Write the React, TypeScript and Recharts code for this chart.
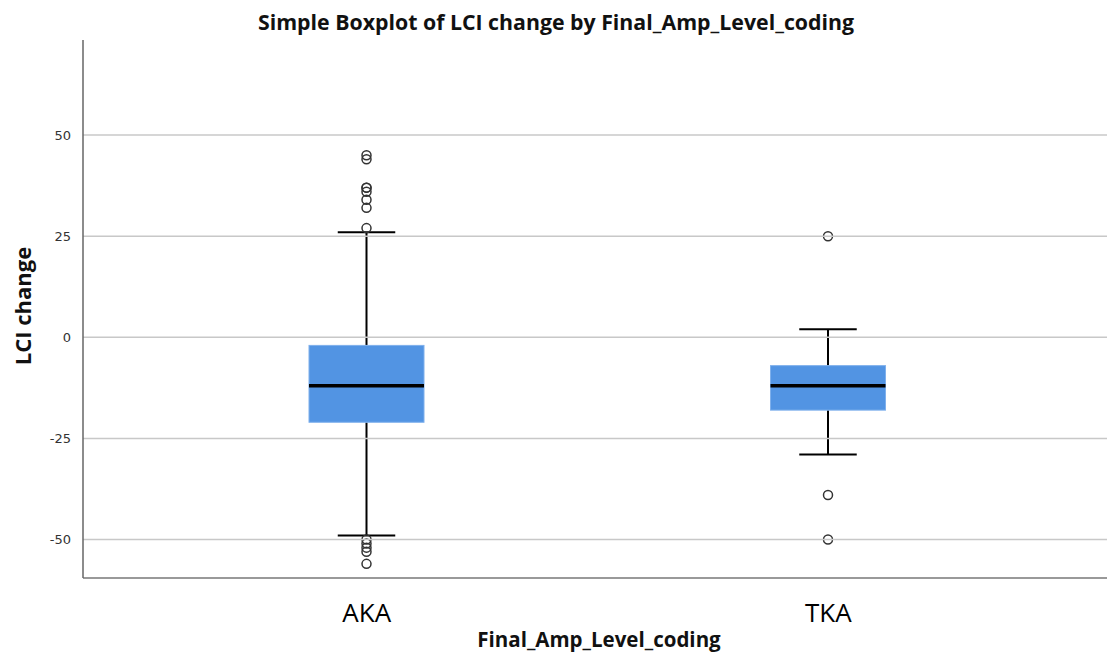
import React from 'react';
import { ComposedChart, Bar, XAxis, YAxis, ReferenceLine, Label } from 'recharts';

const categories = ['AKA', 'TKA'];
const q1Values = [-21, -18];
const medianValues = [-12, -12];
const q3Values = [-2, -7];
const whiskerLowValues = [-49, -29];
const whiskerHighValues = [26, 2];
const akaOutliers = [45, 44, 37, 37, 36, 34, 32, 27, -50, -51, -52, -53, -56];
const tkaOutliers = [25, -39, -50];
const outlierLists = [akaOutliers, tkaOutliers];
const yTicks = [-50, -25, 0, 25, 50];

const data = categories.map((cat, i) => ({
  cat,
  q1: q1Values[i],
  median: medianValues[i],
  q3: q3Values[i],
  whiskerLow: whiskerLowValues[i],
  whiskerHigh: whiskerHighValues[i],
  range: [whiskerLowValues[i], whiskerHighValues[i]],
  outliers: outlierLists[i],
}));

const BoxShape = (props: any) => {
  const { x, y, width, height, payload } = props;
  const hi = payload.whiskerHigh;
  const lo = payload.whiskerLow;
  const top = Math.min(y, y + height);
  const bottom = Math.max(y, y + height);
  const py = (v: number) => top + ((hi - v) / (hi - lo)) * (bottom - top);
  const cx = x + width / 2;
  const capHalf = width / 4;
  const yq3 = py(payload.q3);
  const yq1 = py(payload.q1);
  const ymed = py(payload.median);
  return (
    <g>
      <line x1={cx} x2={cx} y1={py(hi)} y2={yq3} stroke="#000" strokeWidth={2} />
      <line x1={cx} x2={cx} y1={yq1} y2={py(lo)} stroke="#000" strokeWidth={2} />
      <line x1={cx - capHalf} x2={cx + capHalf} y1={py(hi)} y2={py(hi)} stroke="#000" strokeWidth={2} />
      <line x1={cx - capHalf} x2={cx + capHalf} y1={py(lo)} y2={py(lo)} stroke="#000" strokeWidth={2} />
      <rect x={x} y={yq3} width={width} height={yq1 - yq3} fill="#5294e3" stroke="#7fb0ec" strokeWidth={1} />
      <line x1={x} x2={x + width} y1={ymed} y2={ymed} stroke="#000" strokeWidth={3.5} />
      {payload.outliers.map((v: number, k: number) => (
        <circle key={k} cx={cx} cy={py(v)} r={4.5} fill="none" stroke="#333" strokeWidth={1.5} />
      ))}
    </g>
  );
};

const XTick = (props: any) => {
  const { x, y, payload } = props;
  return (
    <text x={x} y={y + 36} textAnchor="middle" fontFamily="'Open Sans', sans-serif" fontSize={26} fill="#000">
      {payload.value}
    </text>
  );
};

const XTitle = (props: any) => {
  const vb = props.viewBox;
  return (
    <text
      x={vb.x + vb.width / 2 + 4}
      y={vb.y + 69}
      textAnchor="middle"
      fontFamily="'Open Sans', sans-serif"
      fontWeight="bold"
      fontSize={20.5}
      fill="#111"
    >
      Final_Amp_Level_coding
    </text>
  );
};

const YTitle = (props: any) => {
  const vb = props.viewBox;
  const cy = vb.y + vb.height / 2 - 3;
  const bx = 31;
  return (
    <text
      x={bx}
      y={cy}
      transform={`rotate(-90, ${bx}, ${cy})`}
      textAnchor="middle"
      fontFamily="'Open Sans', sans-serif"
      fontWeight="bold"
      fontSize={22}
      fill="#111"
    >
      LCI change
    </text>
  );
};

export default function App() {
  return (
    <div style={{ position: 'absolute', left: 0, top: 0, width: 1107, height: 655, background: '#fff' }}>
      <div
        style={{
          position: 'absolute',
          left: 0,
          top: 11,
          width: 1112,
          textAlign: 'center',
          fontFamily: "'Open Sans', sans-serif",
          fontWeight: 'bold',
          fontSize: 21.3,
          lineHeight: '21px',
          color: '#111',
          whiteSpace: 'nowrap',
        }}
      >
        Simple Boxplot of LCI change by Final_Amp_Level_coding
      </div>
      <ComposedChart width={1107} height={655} data={data} margin={{ top: 40, right: 0, bottom: 47, left: 0 }}>
        {yTicks.map((t) => (
          <ReferenceLine key={t} y={t} stroke="#c8c8c8" strokeWidth={1.5} />
        ))}
        <XAxis
          dataKey="cat"
          height={30}
          padding={{ left: 53, right: 48 }}
          axisLine={{ stroke: '#777', strokeWidth: 1.5 }}
          tickLine={false}
          tick={<XTick />}
          interval={0}
        >
          <Label content={<XTitle />} />
        </XAxis>
        <YAxis
          width={83}
          domain={[-59.5, 73.5]}
          ticks={yTicks}
          allowDataOverflow
          axisLine={{ stroke: '#666', strokeWidth: 1.5 }}
          tickLine={false}
          tick={{ fill: '#333', fontSize: 13, fontFamily: "'DejaVu Sans', sans-serif" }}
          tickMargin={6}
        >
          <Label content={<YTitle />} />
        </YAxis>
        <Bar dataKey="range" barSize={115} shape={<BoxShape />} isAnimationActive={false} />
      </ComposedChart>
    </div>
  );
}
